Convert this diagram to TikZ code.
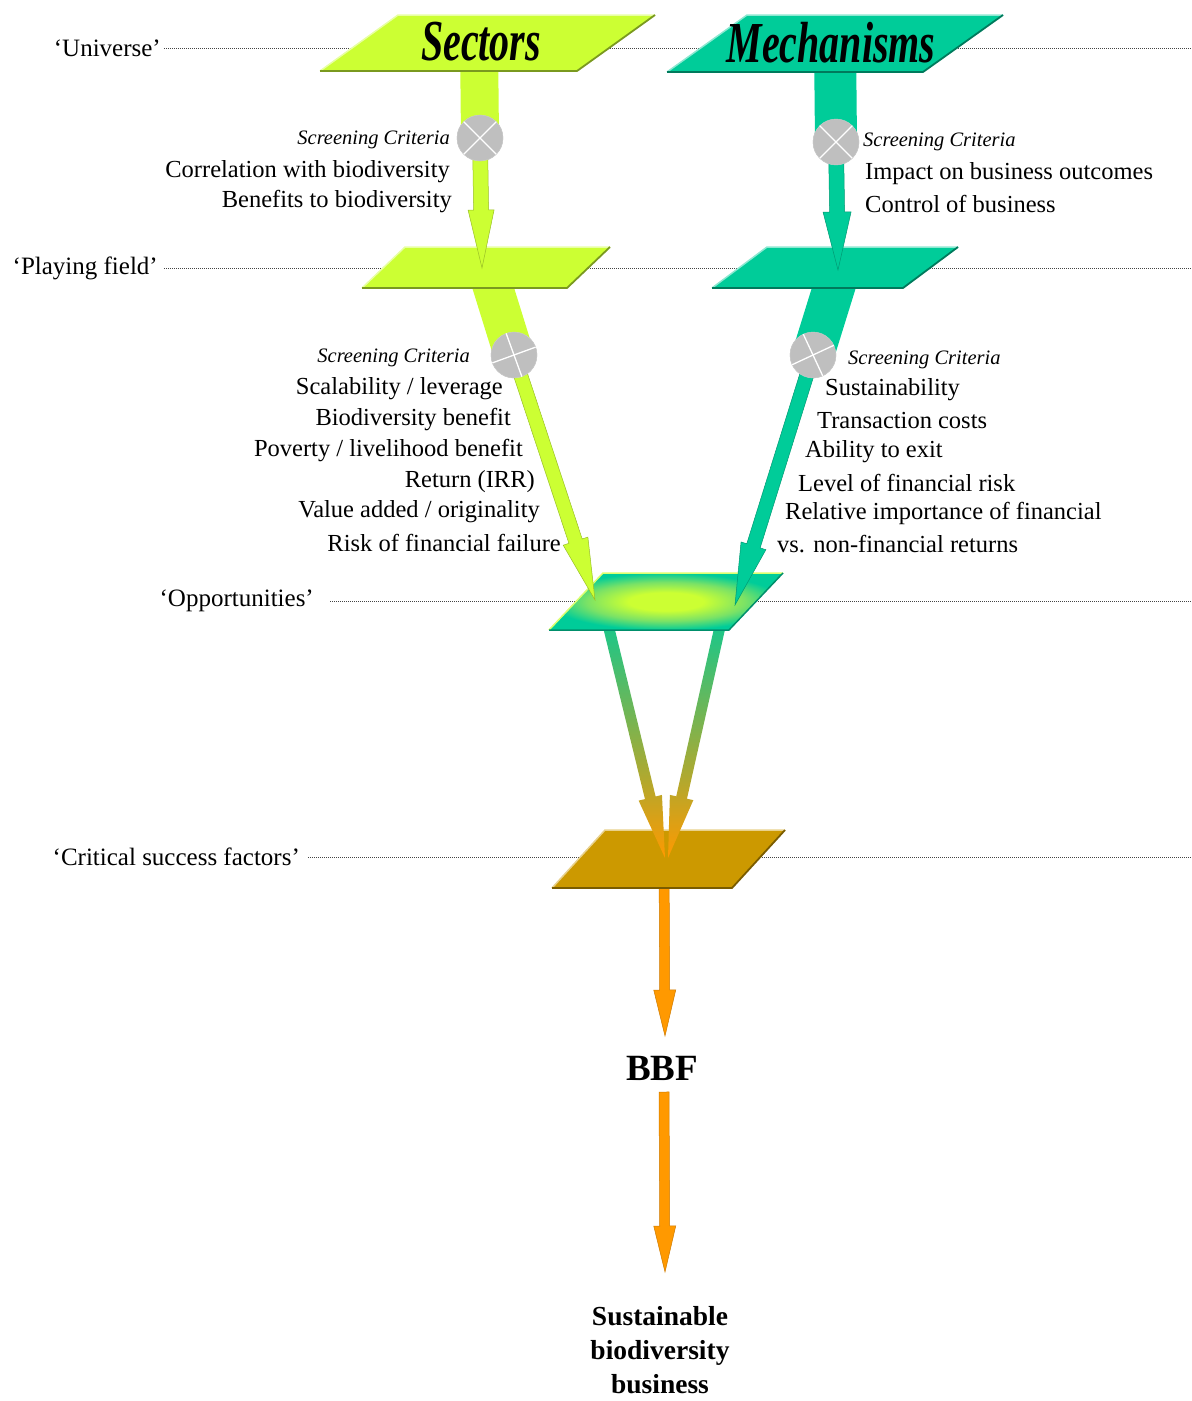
\documentclass[tikz,border=0pt]{standalone}
\usepackage{fontspec}
\usepackage{graphicx}
\setmainfont{Liberation Serif}
\usetikzlibrary{calc}
\definecolor{secG}{HTML}{CCFF33}
\definecolor{mecT}{HTML}{00CC99}
\definecolor{csfC}{HTML}{CC9900}
\definecolor{orA}{HTML}{FF9900}
\definecolor{circG}{HTML}{BFBFBF}
\definecolor{dotC}{HTML}{444444}
\definecolor{oppMid}{HTML}{7AE266}
\pgfdeclareradialshading{oppsh}{\pgfpoint{0bp}{0bp}}{%
  color(0bp)=(secG); color(8bp)=(secG); color(17bp)=(oppMid); color(25bp)=(mecT); color(50bp)=(mecT)}

% straight bar between two points
\newcommand{\fbar}[4]{%
  \path[#4] ($(#1)!0.5*#3pt!90:(#2)$) -- ($(#2)!0.5*#3pt!-90:(#1)$)
     -- ($(#2)!0.5*#3pt!90:(#1)$) -- ($(#1)!0.5*#3pt!-90:(#2)$) -- cycle;}
% arrow: start, tip, start width, stem width, head width, head length, options
\newcommand{\farrow}[7]{%
  \coordinate (fahb) at ($(#2)!#6pt!(#1)$);
  \path[#7] ($(#1)!0.5*#3pt!90:(#2)$) -- ($(fahb)!0.5*#4pt!90:(#2)$)
     -- ($(fahb)!0.5*#5pt!90:(#2)$) -- (#2) -- ($(fahb)!0.5*#5pt!-90:(#2)$)
     -- ($(fahb)!0.5*#4pt!-90:(#2)$) -- ($(#1)!0.5*#3pt!-90:(#2)$) -- cycle;}
% plane: name, x top-left, x top-right, y top, y bottom, shear, colour
\newcommand{\plane}[7]{%
  \coordinate (#1-tl) at (#2,#4); \coordinate (#1-tr) at (#3,#4);
  \coordinate (#1-br) at (#3-#6,#5); \coordinate (#1-bl) at (#2-#6,#5);
  \coordinate (#1) at ($(#1-tl)!0.5!(#1-br)$);
  \fill[#7] (#1-tl) -- (#1-tr) -- (#1-br) -- (#1-bl) -- cycle;
  \draw[#7!45!white, line width=1.5pt, line join=round] (#1-bl) -- (#1-tl) -- (#1-tr);
  \draw[#7!60!black, line width=1.8pt, line join=round] (#1-tr) -- (#1-br) -- (#1-bl);}

\tikzset{
  lab/.style={inner sep=0, font=\fontsize{25}{28}\selectfont},
  txt/.style={inner sep=0, font=\fontsize{24.5}{28}\selectfont},
  crit/.style={inner sep=0, font=\fontsize{20.5}{24}\selectfont\itshape},
  dotline/.style={dotC, line width=1pt, dash pattern=on 1pt off 1pt},
  scrc/.style={circle, fill=circG, draw=circG!80!white, minimum size=46pt, inner sep=0},
  crossl/.style={white, line width=1.3pt},
  title/.style={inner sep=0, font=\fontsize{40}{40}\selectfont\bfseries\itshape},
}

\begin{document}
\begin{tikzpicture}[x=1pt, y=-1pt]
\useasboundingbox (0,0) rectangle (1192,1401);

% ---- level labels and dotted lines
\node[lab, anchor=east] (lUni) at (161,48) {‘Universe’};
\node[lab, anchor=east] (lPlay) at (158,268) {‘Playing field’};
\node[lab, anchor=east] (lOpp) at (314,601) {‘Opportunities’};
\node[lab, anchor=east] (lCsf) at (300,857) {‘Critical success factors’};
\coordinate (rUni) at (1192,48);
\coordinate (rPlay) at (1192,268);
\coordinate (rOpp) at (1192,601);
\coordinate (rCsf) at (1192,857);
\draw[dotline] ([xshift=3pt]lUni.east) -- (rUni);
\draw[dotline] ([xshift=6pt]lPlay.east) -- (rPlay);
\draw[dotline] ([xshift=16pt]lOpp.east) -- (rOpp);
\draw[dotline] ([xshift=8pt]lCsf.east) -- (rCsf);

% ---- bottom orange arrows and texts
\coordinate (o1s) at (664,860);
\coordinate (o1t) at (665,1036);
\coordinate (o2s) at (664,1092);
\coordinate (o2t) at (665,1272);
\farrow{o1s}{o1t}{10}{10}{22}{46}{fill=orA, draw=orA!80!black, line width=0.5pt}
\node[inner sep=0, font=\fontsize{37}{37}\selectfont\bfseries] (bbf) at (662,1068) {BBF};
\farrow{o2s}{o2t}{10}{10}{22}{46}{fill=orA, draw=orA!80!black, line width=0.5pt}
\node[inner sep=0, align=center, font=\fontsize{27.5}{34}\selectfont\bfseries] (sbb) at (660,1350)
  {Sustainable\\biodiversity\\business};

% ---- critical success factors plane
\plane{csf}{605}{785}{830}{888}{53}{csfC}

% ---- opportunities -> CSF arrows
\coordinate (a5s) at (602,600);
\coordinate (a5t) at (665,858);
\coordinate (a6s) at (726,600);
\coordinate (a6t) at (668,858);
\farrow{a5s}{a5t}{11}{11}{24}{62}{top color=mecT, bottom color=orA, shading angle=0}
\farrow{a6s}{a6t}{11}{11}{24}{62}{top color=mecT, bottom color=orA, shading angle=0}

% ---- opportunities plane (shaded)
\coordinate (opp-tl) at (603,573); \coordinate (opp-tr) at (783,573);
\coordinate (opp-br) at (729,630); \coordinate (opp-bl) at (549,630);
\coordinate (opp) at ($(opp-tl)!0.5!(opp-br)$);
\shade[shading=oppsh] (opp-tl) -- (opp-tr) -- (opp-br) -- (opp-bl) -- cycle;
\draw[secG!70!white, line width=1.5pt, line join=round] (opp-bl) -- (opp-tl) -- (opp-tr);
\draw[mecT!70!black, line width=1.5pt, line join=round] (opp-tr) -- (opp-br) -- (opp-bl);

% ---- playing field -> opportunities arrows
\coordinate (a3s) at (487,268);
\coordinate (a3t) at (595,600);
\coordinate (a4s) at (840,268);
\coordinate (a4t) at (735,605);
\node[scrc] (c3) at (514,355) {};
\node[scrc] (c4) at (813,355) {};
\fbar{a3s}{c3}{40}{fill=secG}
\farrow{c3}{a3t}{14}{14}{26}{62}{fill=secG, draw=secG!75!black, line width=0.5pt}
\fbar{a4s}{c4}{42}{fill=mecT}
\farrow{c4}{a4t}{14}{14}{26}{62}{fill=mecT, draw=mecT!75!black, line width=0.5pt}
\node[scrc] (c3b) at (514,355) {};
\node[scrc] (c4b) at (813,355) {};
\draw[crossl] ($(c3b)+(20:23pt)$) -- ($(c3b)+(200:23pt)$);
\draw[crossl] ($(c3b)+(110:23pt)$) -- ($(c3b)+(290:23pt)$);
\draw[crossl] ($(c4b)+(25:23pt)$) -- ($(c4b)+(205:23pt)$);
\draw[crossl] ($(c4b)+(115:23pt)$) -- ($(c4b)+(295:23pt)$);

% ---- playing field planes
\plane{pfS}{405}{610}{247}{288}{43}{secG}
\plane{pfM}{767}{958}{247}{288}{55}{mecT}

% ---- universe -> playing field arrows
\coordinate (a1s) at (479,40);
\coordinate (a1t) at (482,268);
\coordinate (a2s) at (835,40);
\coordinate (a2t) at (838,270);
\node[scrc] (c1) at (480,138) {};
\node[scrc] (c2) at (836,142) {};
\fbar{a1s}{c1}{38}{fill=secG}
\farrow{c1}{a1t}{15}{15}{26}{58}{fill=secG, draw=secG!75!black, line width=0.5pt}
\fbar{a2s}{c2}{42}{fill=mecT}
\farrow{c2}{a2t}{15}{15}{28}{58}{fill=mecT, draw=mecT!75!black, line width=0.5pt}
\node[scrc] (c1b) at (480,138) {};
\node[scrc] (c2b) at (836,142) {};
\draw[crossl] ($(c1b)+(45:23pt)$) -- ($(c1b)+(225:23pt)$);
\draw[crossl] ($(c1b)+(135:23pt)$) -- ($(c1b)+(315:23pt)$);
\draw[crossl] ($(c2b)+(45:23pt)$) -- ($(c2b)+(225:23pt)$);
\draw[crossl] ($(c2b)+(135:23pt)$) -- ($(c2b)+(315:23pt)$);

% ---- universe planes
\plane{uS}{398}{655}{15}{71}{78}{secG}
\plane{uM}{747}{1003}{15}{72}{80}{mecT}
\node[title] (tS) at (481,42) {\scalebox{1}[1.45]{Sectors}};
\node[title] (tM) at (831,43) {\scalebox{1}[1.45]{Mechanisms}};

% ---- criteria texts (upper)
\node[crit, anchor=east] (s1) at (450,140) {Screening Criteria};
\node[txt, anchor=east] (s1a) at (450,172) {Correlation with biodiversity};
\node[txt, anchor=east] (s1b) at (452,202) {Benefits to biodiversity};
\node[crit, anchor=west] (m1) at (863,142) {Screening Criteria};
\node[txt, anchor=west] (m1a) at (865,174) {Impact on business outcomes};
\node[txt, anchor=west] (m1b) at (865,204) {Control of business};

% ---- criteria texts (lower)
\node[crit, anchor=east] (s2) at (470,358) {Screening Criteria};
\node[txt, anchor=east] (s2a) at (503,389) {Scalability / leverage};
\node[txt, anchor=east] (s2b) at (511,420) {Biodiversity benefit};
\node[txt, anchor=east] (s2c) at (523,451) {Poverty / livelihood benefit};
\node[txt, anchor=east] (s2d) at (535,482) {Return (IRR)};
\node[txt, anchor=east] (s2e) at (540,512) {Value added / originality};
\node[txt, anchor=east] (s2f) at (561,543) {Risk of financial failure};
\node[crit, anchor=west] (m2) at (848,360) {Screening Criteria};
\node[txt, anchor=west] (m2a) at (825,390) {Sustainability};
\node[txt, anchor=west] (m2b) at (817,421) {Transaction costs};
\node[txt, anchor=west] (m2c) at (805,452) {Ability to exit};
\node[txt, anchor=west] (m2d) at (798,483) {Level of financial risk};
\node[txt, anchor=west] (m2e) at (785,513) {Relative importance of financial};
\node[txt, anchor=west] (m2f) at (777,544) {vs. non-financial returns};
\end{tikzpicture}
\end{document}
